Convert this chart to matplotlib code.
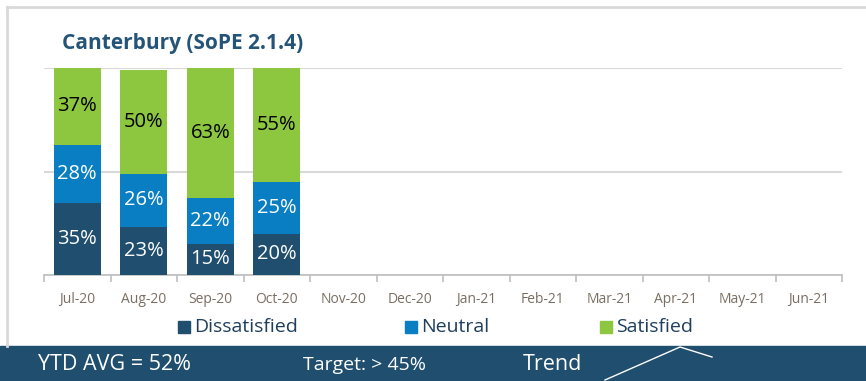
import matplotlib.pyplot as plt
import numpy as np
from matplotlib.patches import Rectangle
from matplotlib.lines import Line2D

plt.rcParams['font.family'] = ['Open Sans', 'DejaVu Sans']

months = ['Jul-20', 'Aug-20', 'Sep-20', 'Oct-20', 'Nov-20', 'Dec-20',
          'Jan-21', 'Feb-21', 'Mar-21', 'Apr-21', 'May-21', 'Jun-21']
dissatisfied = [35, 23, 15, 20]
neutral = [28, 26, 22, 25]
satisfied = [37, 50, 63, 55]

ytd_avg = '52%'
target = '> 45%'

C_DIS = '#1f4e6e'
C_NEU = '#0a7ec2'
C_SAT = '#8dc63f'
C_GRID = '#d9d9d9'

fig = plt.figure(figsize=(8.66, 3.81), dpi=100)

# light frame round the chart
fig.add_artist(Line2D([7 / 866, 1], [1 - 7 / 381] * 2, color=C_GRID, lw=2))
fig.add_artist(Line2D([7 / 866] * 2, [1 - 7 / 381, 1 - 346 / 381], color=C_GRID, lw=2))

ax = fig.add_axes([44 / 866, 1 - 275 / 381, 798 / 866, 207 / 381])
x = np.arange(len(dissatisfied))
w = 0.71
b1 = ax.bar(x, dissatisfied, w, color=C_DIS, zorder=3)
b2 = ax.bar(x, neutral, w, bottom=dissatisfied, color=C_NEU, zorder=3)
bottom2 = np.array(dissatisfied) + np.array(neutral)
b3 = ax.bar(x, satisfied, w, bottom=bottom2, color=C_SAT, zorder=3)

for bars, vals, col in [(b1, dissatisfied, 'white'), (b2, neutral, 'white'), (b3, satisfied, 'black')]:
    for r, v in zip(bars, vals):
        ax.text(r.get_x() + r.get_width() / 2, r.get_y() + r.get_height() / 2,
                f'{v}%', ha='center', va='center', color=col, fontsize=14.5, zorder=4)

ax.set_xlim(-0.5, len(months) - 0.5)
ax.set_ylim(0, 100)
ax.set_yticks([0, 50, 100])
ax.yaxis.grid(True, color=C_GRID, lw=1.5, zorder=0)
ax.tick_params(axis='y', left=False, labelleft=False)
for s in ['top', 'right', 'left']:
    ax.spines[s].set_visible(False)
ax.spines['bottom'].set_color('#bfbfbf')
ax.spines['bottom'].set_linewidth(1.2)

ax.set_xticks(np.arange(len(months)))
ax.set_xticklabels(months, color='#7a6e62', fontsize=10)
ax.tick_params(axis='x', which='major', length=0, pad=12)
ax.set_xticks(np.arange(len(months) + 1) - 0.5, minor=True)
ax.tick_params(axis='x', which='minor', length=5, color='#bfbfbf', width=1.2)

fig.text(62 / 866, 1 - 43 / 381, 'Canterbury (SoPE 2.1.4)', fontsize=15,
         fontweight='bold', color='#245478', va='center')

# legend
for label, col, x0 in [('Dissatisfied', C_DIS, 178), ('Neutral', C_NEU, 405), ('Satisfied', C_SAT, 600)]:
    fig.add_artist(Rectangle((x0 / 866, 1 - 333 / 381), 12 / 866, 12 / 381, color=col))
    fig.text((x0 + 16) / 866, 1 - 327 / 381, label, fontsize=14, color='#1f3d5c', va='center')

# summary band
fig.add_artist(Rectangle((0, 0), 1, 35 / 381, color=C_DIS))
fig.text(38 / 866, 1 - 365 / 381, f'YTD AVG = {ytd_avg}', fontsize=15.5, color='white', va='center')
fig.text(303 / 866, 1 - 365 / 381, f'Target: {target}', fontsize=14, color='white', va='center')
fig.text(523 / 866, 1 - 365 / 381, 'Trend', fontsize=15.5, color='white', va='center')
tx = np.array([605, 680, 712]) / 866
ty = 1 - np.array([380, 347, 357]) / 381
fig.add_artist(Line2D(tx, ty, color='white', lw=1))

fig.savefig('out.png', dpi=100)
